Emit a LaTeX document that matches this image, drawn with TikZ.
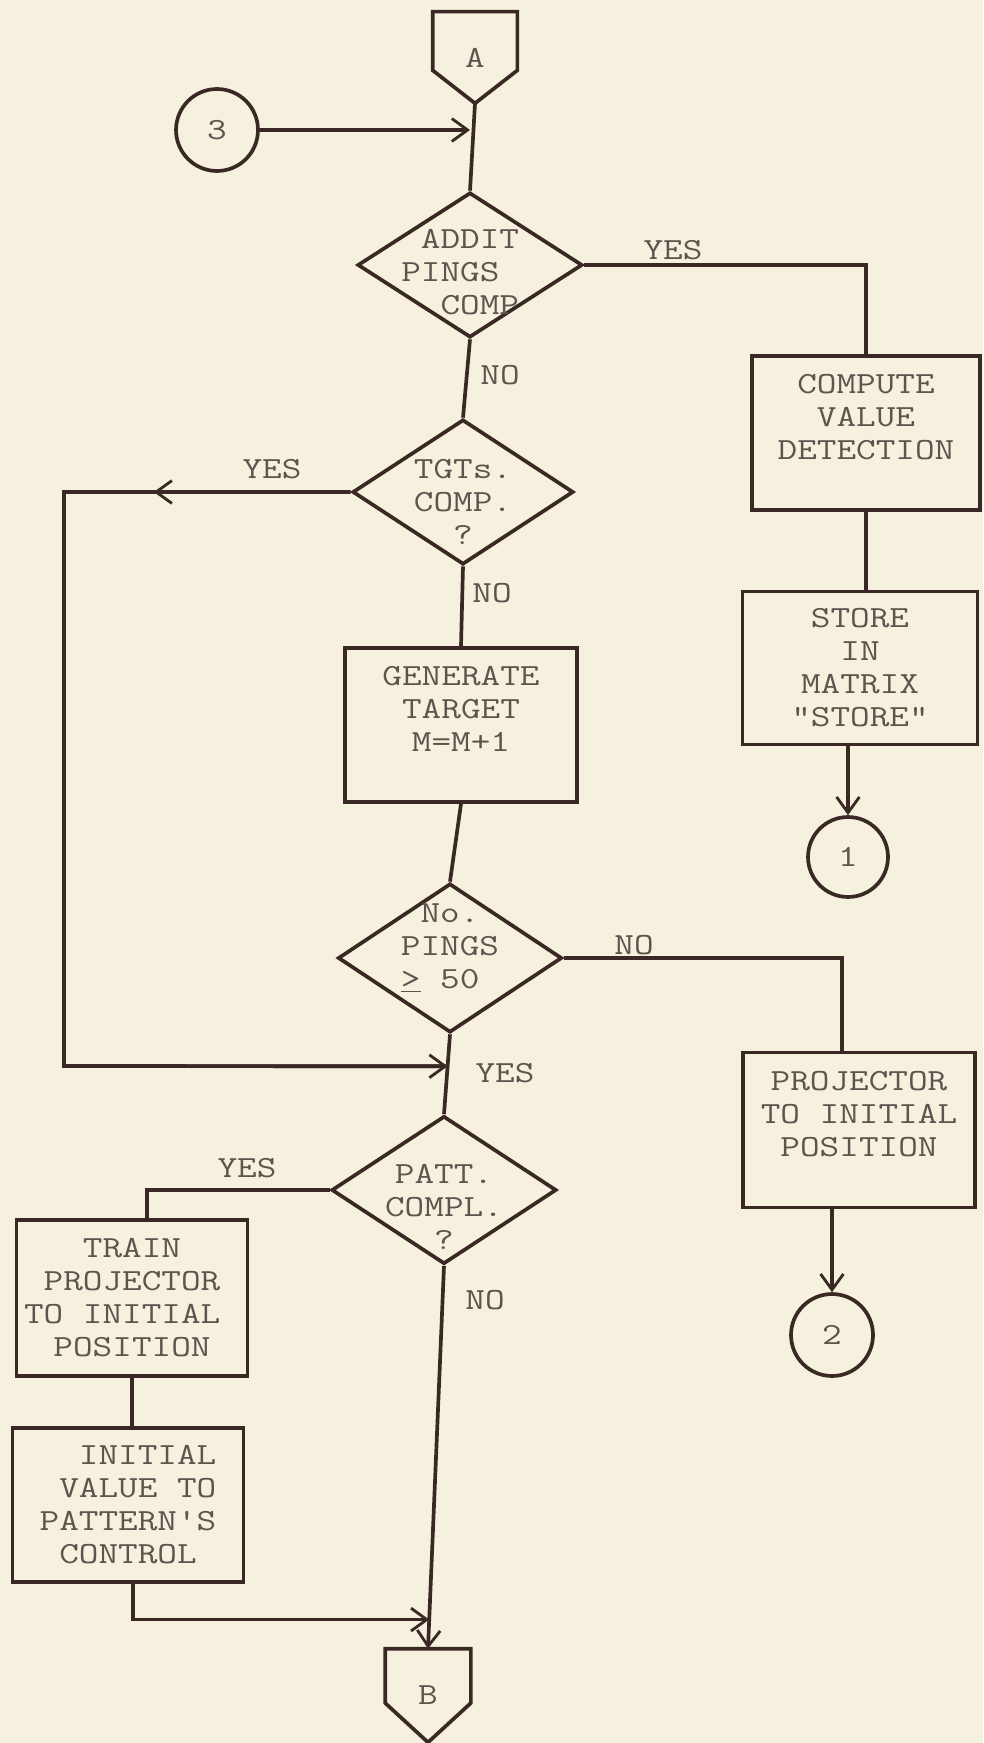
\documentclass[tikz,border=0pt]{standalone}
\usepackage{fontspec}
\setmonofont{Latin Modern Mono}[FakeStretch=1.24]
\usetikzlibrary{shapes.geometric,arrows.meta,calc,decorations.markings}
\definecolor{paper}{RGB}{245,241,222}
\definecolor{ink}{RGB}{58,40,36}
\definecolor{typeink}{RGB}{92,84,78}

\tikzset{
    line/.style={draw=ink, line width=2.1pt},
    flow/.style={line, -{Straight Barb[length=9pt,width=13pt,line width=1.6pt]}},
    box/.style={draw=ink, line width=2.1pt, rectangle, align=center, inner sep=0pt, text=typeink},
    decision/.style={draw=ink, line width=2.1pt, diamond, inner sep=0pt},
    connector/.style={draw=ink, line width=2.1pt, circle, inner sep=0pt, text=typeink},
    offpage/.style={rectangle, inner sep=0pt, text=typeink},
    dtext/.style={align=center, text=typeink, inner sep=0pt},
    answer/.style={text=typeink, inner sep=0pt},
    backarrow/.style={postaction={decorate}, decoration={markings,
        mark=at position 3.94cm with {\arrow[color=ink]{Straight Barb[length=9pt,width=13pt,line width=1.6pt]}}}}
}

\begin{document}
\begin{tikzpicture}[x=0.02cm, y=-0.02cm, font=\ttfamily\fontsize{17.5}{18.8}\selectfont]
    \useasboundingbox (0,0) rectangle (983,1743);
    \fill[paper] (0,0) rectangle (983,1743);
    % Entry connectors
    \node[offpage, minimum width=1.68cm, minimum height=1.82cm] (offA) at (475,57.5) {A};
    \draw[line] (offA.north west) -- (offA.north east)
        -- ($(offA.north east)!0.64!(offA.south east)$) -- (offA.south)
        -- ($(offA.north west)!0.64!(offA.south west)$) -- cycle;
    \node[connector, minimum size=1.64cm] (c3) at (217,130) {3};
    % Decisions on the main column
    \node[decision, minimum width=4.5cm, minimum height=2.9cm,
        label={[dtext,yshift=-0.14cm]center:{ADDIT\\PINGS\phantom{XX}\\\phantom{X}COMP}}] (addit) at (470,265) {};
    \node[decision, minimum width=4.42cm, minimum height=2.9cm,
        label={[dtext,yshift=-0.2cm]center:{TGTs.\\COMP.\\?}}] (tgts) at (463,492) {};
    \node[box, minimum width=4.64cm, minimum height=3.08cm] (gen) at (461,725) {GENERATE\\TARGET\\M=M+1\\~};
    \node[decision, minimum width=4.48cm, minimum height=2.98cm,
        label={[dtext,yshift=0.2cm]center:{No.\\PINGS\\\underline{>} 50\phantom{X}}}] (pings) at (450,958) {};
    \node[decision, minimum width=4.5cm, minimum height=2.96cm,
        label={[dtext,yshift=-0.34cm]center:{PATT.\\COMPL.\\?}}] (patt) at (444,1190) {};
    \node[offpage, minimum width=1.7cm, minimum height=1.86cm] (offB) at (428,1695.5) {\raisebox{-0.15cm}{B}};
    \draw[line] (offB.north west) -- (offB.north east)
        -- ($(offB.north east)!0.58!(offB.south east)$) -- (offB.south)
        -- ($(offB.north west)!0.58!(offB.south west)$) -- cycle;
    % Right branch
    \node[box, minimum width=4.56cm, minimum height=3.08cm] (compute) at (866,433) {COMPUTE\\VALUE\\DETECTION\\~};
    \node[box, minimum width=4.7cm, minimum height=3.06cm] (store) at (860,668) {STORE\\IN\\MATRIX\\"STORE"};
    \node[connector, minimum size=1.6cm] (c1) at (848,857) {1};
    \node[box, minimum width=4.64cm, minimum height=3.1cm] (proj) at (859,1130) {PROJECTOR\\TO INITIAL\\POSITION\\~};
    \node[connector, minimum size=1.64cm] (c2) at (832,1335) {2};
    % Left branch
    \node[box, minimum width=4.62cm, minimum height=3.12cm] (train) at (132,1298) {TRAIN\\PROJECTOR\\TO INITIAL\phantom{X}\\POSITION};
    \node[box, align=right, minimum width=4.62cm, minimum height=3.08cm] (init) at (128,1505) {INITIAL\\VALUE TO\\PATTERN'S\\CONTROL\phantom{.}};
    % Answers
    \node[answer] (yes1) at (673,250) {YES};
    \node[answer] (no1) at (500,375) {NO};
    \node[answer] (yes2) at (272,469) {YES};
    \node[answer] (no2) at (492,593) {NO};
    \node[answer] (no3) at (634,945) {NO};
    \node[answer] (yes3) at (505,1073) {YES};
    \node[answer] (yes4) at (247,1168) {YES};
    \node[answer] (no4) at (485,1300) {NO};
    % Junctions and corners
    \coordinate (loopS) at (64,1066);
    \coordinate (j2) at ($(pings.south)!0.4!(patt.north)$);
    \coordinate (j5) at ($(patt.south)!0.924!(offB.north)$);
    % Connectors
    \draw[line] (offA.south) -- (addit.north);
    \draw[flow] (c3.east) -- (c3.east -| addit.north);
    \draw[line] (addit.east) -| (compute.north);
    \draw[line] (compute.south) -- (compute.south |- store.north);
    \draw[flow] (store.south -| c1) -- (c1.north);
    \draw[line] (addit.south) -- (tgts.north);
    \draw[line, backarrow] (tgts.west) -| (loopS) -- (j2);
    \draw[flow] (loopS) -- (j2);
    \draw[line] (tgts.south) -- (gen.north);
    \draw[line] (gen.south) -- (pings.north);
    \draw[line] (pings.east) -| ([xshift=-0.34cm]proj.north);
    \draw[flow] (proj.south -| c2) -- (c2.north);
    \draw[line] (pings.south) -- (patt.north);
    \draw[line] (patt.west) -| ([xshift=0.3cm]train.north);
    \draw[line] (train.south) -- (train.south |- init.north);
    \draw[flow] ([xshift=0.1cm]init.south) |- (j5);
    \draw[flow] (patt.south) -- (offB.north);
\end{tikzpicture}
\end{document}
